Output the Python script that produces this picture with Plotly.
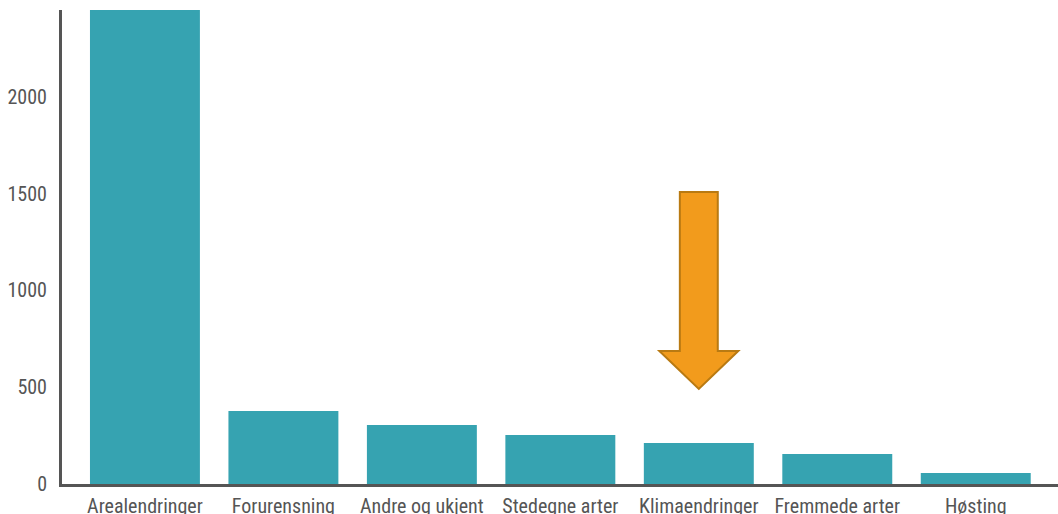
import plotly.graph_objects as go

categories = ["Arealendringer", "Forurensning", "Andre og ukjent", "Stedegne arter",
              "Klimaendringer", "Fremmede arter", "Høsting"]
values = [2600, 377, 305, 253, 212, 155, 57]
y_ticks = [0, 500, 1000, 1500, 2000]

# arrow pointing at the highlighted category
arrow_category_index = 4
arrow_top, arrow_head_start, arrow_tip = 1508, 687, 491
shaft_half, head_half = 0.137, 0.285

BAR = "#36A3B1"
AXIS = "#555555"
FONT = "Roboto Condensed, Liberation Sans Narrow, Roboto, sans-serif"

fig = go.Figure()
fig.add_trace(go.Bar(x=list(range(len(categories))), y=values, marker=dict(color=BAR, line=dict(width=0)),
                     hoverinfo="skip"))

xc = arrow_category_index
path = (f"M {xc - shaft_half} {arrow_top} L {xc + shaft_half} {arrow_top} "
        f"L {xc + shaft_half} {arrow_head_start} L {xc + head_half} {arrow_head_start} "
        f"L {xc} {arrow_tip} L {xc - head_half} {arrow_head_start} "
        f"L {xc - shaft_half} {arrow_head_start} Z")
fig.add_shape(type="path", path=path, xref="x", yref="y",
              fillcolor="#F29B1C", line=dict(color="#B97A12", width=2))

fig.update_layout(
    width=1058, height=514,
    margin=dict(l=62, r=0, t=10, b=30),
    plot_bgcolor="white", paper_bgcolor="white",
    bargap=0.206,
    showlegend=False,
    font=dict(family=FONT, size=20, color=AXIS),
)
fig.update_xaxes(
    range=[-0.599, 6.594], automargin=False,
    tickvals=list(range(len(categories))), ticktext=categories,
    showline=True, linecolor=AXIS, linewidth=3,
    showgrid=False, zeroline=False, ticks="", ticklabelstandoff=2,
    tickfont=dict(family=FONT, size=20, color=AXIS),
)
fig.update_yaxes(
    range=[0, 2448], automargin=False,
    tickvals=y_ticks, ticktext=[str(v) for v in y_ticks],
    showline=True, linecolor=AXIS, linewidth=3,
    showgrid=False, zeroline=False, ticks="", ticklabelstandoff=8,
    tickfont=dict(family=FONT, size=20, color=AXIS),
)

fig.write_html("out.html")
